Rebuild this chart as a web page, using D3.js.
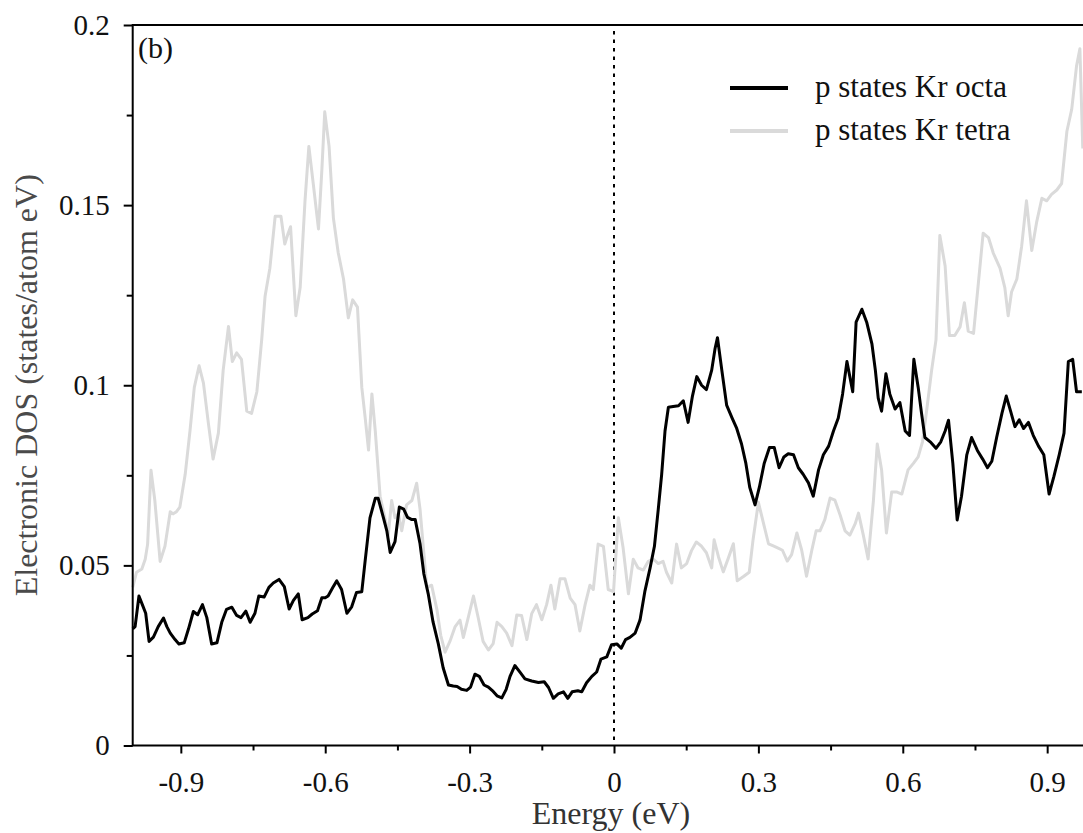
<!DOCTYPE html>
<html>
<head>
<meta charset="utf-8">
<script src="https://cdn.jsdelivr.net/npm/d3@7"></script>
<style>
  html, body { margin: 0; padding: 0; background: #fff; overflow: hidden; }
</style>
</head>
<body>
<div id="chart-area"></div>
<script>
// p states Kr octa (black)
var octaE = [-1.000,-0.995,-0.987,-0.980,-0.973,-0.966,-0.957,-0.947,-0.936,-0.929,-0.922,-0.912,-0.904,-0.893,-0.884,-0.874,-0.865,-0.855,-0.846,-0.836,-0.825,-0.815,-0.805,-0.794,-0.784,-0.775,-0.765,-0.756,-0.746,-0.738,-0.727,-0.717,-0.708,-0.696,-0.685,-0.675,-0.666,-0.656,-0.648,-0.636,-0.627,-0.616,-0.607,-0.600,-0.594,-0.584,-0.576,-0.566,-0.555,-0.545,-0.535,-0.524,-0.517,-0.507,-0.496,-0.490,-0.479,-0.472,-0.465,-0.455,-0.446,-0.437,-0.429,-0.420,-0.413,-0.403,-0.395,-0.386,-0.376,-0.365,-0.355,-0.344,-0.334,-0.326,-0.317,-0.306,-0.298,-0.289,-0.280,-0.270,-0.261,-0.251,-0.243,-0.233,-0.224,-0.216,-0.206,-0.195,-0.185,-0.171,-0.157,-0.145,-0.136,-0.126,-0.116,-0.105,-0.096,-0.087,-0.075,-0.067,-0.057,-0.046,-0.036,-0.027,-0.015,-0.005,0.006,0.015,0.024,0.033,0.044,0.054,0.064,0.075,0.084,0.092,0.099,0.106,0.113,0.123,0.134,0.144,0.154,0.163,0.172,0.182,0.192,0.203,0.210,0.215,0.224,0.234,0.245,0.255,0.265,0.274,0.282,0.293,0.302,0.312,0.323,0.333,0.343,0.353,0.362,0.373,0.383,0.393,0.404,0.414,0.425,0.435,0.446,0.456,0.466,0.475,0.484,0.490,0.496,0.503,0.515,0.525,0.536,0.543,0.549,0.556,0.565,0.573,0.584,0.594,0.605,0.614,0.623,0.632,0.639,0.646,0.657,0.669,0.679,0.688,0.695,0.704,0.713,0.722,0.733,0.743,0.755,0.766,0.776,0.785,0.795,0.806,0.815,0.824,0.833,0.842,0.851,0.861,0.871,0.882,0.893,0.904,0.914,0.925,0.935,0.944,0.953,0.961,0.972];
var octaDOS = [0.0324,0.0330,0.0415,0.0391,0.0367,0.0289,0.0301,0.0330,0.0354,0.0330,0.0312,0.0294,0.0282,0.0285,0.0324,0.0372,0.0363,0.0391,0.0355,0.0282,0.0285,0.0342,0.0378,0.0384,0.0361,0.0355,0.0373,0.0342,0.0367,0.0415,0.0412,0.0439,0.0451,0.0461,0.0441,0.0379,0.0403,0.0421,0.0349,0.0355,0.0365,0.0374,0.0410,0.0410,0.0415,0.0439,0.0457,0.0433,0.0367,0.0385,0.0425,0.0427,0.0513,0.0632,0.0686,0.0686,0.0632,0.0596,0.0536,0.0566,0.0662,0.0656,0.0633,0.0627,0.0627,0.0560,0.0476,0.0421,0.0343,0.0282,0.0216,0.0168,0.0165,0.0164,0.0156,0.0153,0.0162,0.0198,0.0192,0.0168,0.0162,0.0150,0.0138,0.0132,0.0156,0.0192,0.0222,0.0203,0.0185,0.0179,0.0175,0.0177,0.0161,0.0131,0.0143,0.0149,0.0131,0.0149,0.0152,0.0149,0.0174,0.0192,0.0204,0.0240,0.0246,0.0280,0.0282,0.0270,0.0294,0.0300,0.0312,0.0348,0.0427,0.0493,0.0553,0.0656,0.0752,0.0873,0.0939,0.0941,0.0943,0.0957,0.0897,0.0970,0.1024,0.1000,0.0988,0.1042,0.1102,0.1132,0.1042,0.0945,0.0910,0.0880,0.0837,0.0783,0.0717,0.0668,0.0717,0.0783,0.0827,0.0827,0.0771,0.0801,0.0810,0.0807,0.0771,0.0753,0.0729,0.0692,0.0765,0.0807,0.0831,0.0873,0.0909,0.0976,0.1066,0.1024,0.0982,0.1175,0.1211,0.1175,0.1114,0.1042,0.0964,0.0928,0.1032,0.0976,0.0934,0.0952,0.0873,0.0861,0.1072,0.0994,0.0922,0.0855,0.0843,0.0825,0.0843,0.0873,0.0903,0.0783,0.0626,0.0692,0.0807,0.0855,0.0819,0.0795,0.0771,0.0789,0.0855,0.0922,0.0970,0.0928,0.0885,0.0904,0.0880,0.0897,0.0861,0.0831,0.0807,0.0698,0.0747,0.0807,0.0867,0.1066,0.1072,0.0982,0.0982];

// p states Kr tetra (light grey)
var tetraE = [-1.000,-0.992,-0.981,-0.974,-0.969,-0.962,-0.954,-0.943,-0.933,-0.922,-0.916,-0.909,-0.902,-0.891,-0.881,-0.872,-0.862,-0.853,-0.843,-0.833,-0.822,-0.812,-0.801,-0.793,-0.784,-0.774,-0.763,-0.753,-0.742,-0.732,-0.725,-0.715,-0.704,-0.692,-0.684,-0.677,-0.672,-0.661,-0.652,-0.642,-0.634,-0.625,-0.614,-0.607,-0.601,-0.592,-0.583,-0.573,-0.562,-0.552,-0.543,-0.533,-0.524,-0.517,-0.510,-0.503,-0.496,-0.486,-0.476,-0.469,-0.462,-0.455,-0.448,-0.441,-0.431,-0.420,-0.410,-0.403,-0.396,-0.389,-0.379,-0.368,-0.360,-0.351,-0.341,-0.330,-0.320,-0.313,-0.303,-0.292,-0.282,-0.272,-0.261,-0.251,-0.243,-0.233,-0.223,-0.212,-0.202,-0.192,-0.181,-0.171,-0.161,-0.150,-0.140,-0.131,-0.123,-0.112,-0.102,-0.091,-0.081,-0.071,-0.060,-0.050,-0.043,-0.033,-0.022,-0.012,-0.001,0.009,0.019,0.030,0.040,0.050,0.061,0.071,0.082,0.092,0.102,0.109,0.120,0.130,0.140,0.151,0.161,0.171,0.182,0.192,0.203,0.208,0.217,0.227,0.237,0.248,0.256,0.269,0.281,0.289,0.300,0.310,0.321,0.331,0.341,0.350,0.360,0.369,0.380,0.390,0.400,0.411,0.420,0.428,0.438,0.449,0.459,0.470,0.480,0.490,0.501,0.508,0.518,0.528,0.539,0.547,0.556,0.566,0.577,0.587,0.598,0.611,0.622,0.632,0.641,0.650,0.660,0.669,0.677,0.688,0.697,0.708,0.719,0.728,0.736,0.747,0.757,0.767,0.778,0.788,0.802,0.812,0.819,0.826,0.837,0.847,0.857,0.868,0.878,0.889,0.899,0.909,0.920,0.930,0.941,0.951,0.961,0.968,0.974];
var tetraDOS = [0.0439,0.0481,0.0490,0.0517,0.0559,0.0764,0.0680,0.0511,0.0553,0.0649,0.0643,0.0649,0.0662,0.0752,0.0873,0.0994,0.1054,0.1006,0.0897,0.0795,0.0867,0.1042,0.1163,0.1066,0.1090,0.1072,0.0928,0.0922,0.0982,0.1126,0.1247,0.1325,0.1469,0.1469,0.1392,0.1422,0.1440,0.1193,0.1272,0.1512,0.1663,0.1561,0.1434,0.1597,0.1759,0.1663,0.1464,0.1368,0.1295,0.1187,0.1237,0.1217,0.0994,0.0910,0.0820,0.0976,0.0873,0.0692,0.0632,0.0583,0.0680,0.0632,0.0644,0.0596,0.0668,0.0680,0.0728,0.0656,0.0548,0.0439,0.0445,0.0378,0.0306,0.0259,0.0289,0.0330,0.0348,0.0300,0.0354,0.0415,0.0354,0.0289,0.0265,0.0283,0.0342,0.0330,0.0312,0.0277,0.0362,0.0361,0.0294,0.0366,0.0391,0.0349,0.0391,0.0445,0.0379,0.0463,0.0463,0.0409,0.0391,0.0318,0.0391,0.0445,0.0433,0.0559,0.0553,0.0433,0.0427,0.0632,0.0548,0.0421,0.0517,0.0493,0.0487,0.0511,0.0517,0.0505,0.0511,0.0481,0.0451,0.0559,0.0493,0.0505,0.0541,0.0565,0.0553,0.0535,0.0493,0.0571,0.0524,0.0482,0.0518,0.0560,0.0457,0.0469,0.0481,0.0572,0.0675,0.0620,0.0560,0.0554,0.0548,0.0542,0.0512,0.0530,0.0590,0.0542,0.0470,0.0542,0.0596,0.0596,0.0627,0.0687,0.0681,0.0639,0.0596,0.0584,0.0615,0.0645,0.0584,0.0518,0.0680,0.0837,0.0765,0.0590,0.0704,0.0704,0.0698,0.0765,0.0783,0.0801,0.0843,0.0934,0.1042,0.1126,0.1416,0.1331,0.1138,0.1138,0.1162,0.1229,0.1150,0.1144,0.1283,0.1422,0.1410,0.1367,0.1325,0.1271,0.1193,0.1259,0.1295,0.1386,0.1512,0.1374,0.1452,0.1519,0.1512,0.1530,0.1542,0.1560,0.1705,0.1766,0.1886,0.1934,0.1657];

var seriesNames = ["p states Kr octa", "p states Kr tetra"];
var xTicks = [-0.9, -0.6, -0.3, 0, 0.3, 0.6, 0.9];
var xMinorTicks = [-0.75, -0.45, -0.15, 0.15, 0.45, 0.75];
var yTicks = [0, 0.05, 0.1, 0.15, 0.2];
var yMinorTicks = [0.025, 0.075, 0.125, 0.175];

var svgWidth = 1083;
var svgHeight = 833;
var plotLeft = 132.7, plotRight = 1095.3, plotTop = 25, plotBottom = 745.5;
var serif = "'Liberation Serif', 'Times New Roman', serif";

var svg = d3.select("#chart-area")
            .append("svg")
            .attr("width", svgWidth)
            .attr("height", svgHeight);

var x = d3.scaleLinear().domain([-1, 1]).range([plotLeft, plotRight]);
var y = d3.scaleLinear().domain([0, 0.2]).range([plotBottom, plotTop]);

// zero energy marker
svg.append("line")
   .attr("x1", x(0)).attr("x2", x(0))
   .attr("y1", plotTop + 6).attr("y2", plotBottom)
   .attr("stroke", "#000")
   .attr("stroke-width", 2)
   .attr("stroke-dasharray", "3.5,5");

// lines
var line = d3.line()
             .x((d) => x(d[0]))
             .y((d) => y(d[1]));

var tetraData = d3.zip(tetraE, tetraDOS);
var octaData = d3.zip(octaE, octaDOS);

svg.append("path")
   .datum(tetraData)
   .attr("d", line)
   .attr("fill", "none")
   .attr("stroke", "#dadada")
   .attr("stroke-width", 3)
   .attr("stroke-linejoin", "round");

svg.append("path")
   .datum(octaData)
   .attr("d", line)
   .attr("fill", "none")
   .attr("stroke", "#000")
   .attr("stroke-width", 3)
   .attr("stroke-linejoin", "round");

// frame
svg.append("rect")
   .attr("x", plotLeft).attr("y", plotTop)
   .attr("width", plotRight - plotLeft).attr("height", plotBottom - plotTop)
   .attr("fill", "none")
   .attr("stroke", "#000")
   .attr("stroke-width", 2);

// axes
function styleAxis(g) {
    g.select(".domain").remove();
    g.selectAll(".tick line").attr("stroke", "#000").attr("stroke-width", 2);
    g.selectAll(".tick text")
     .attr("font-family", serif)
     .attr("font-size", "29px")
     .attr("fill", "#111");
}

svg.append("g")
   .attr("transform", "translate(0," + plotBottom + ")")
   .call(d3.axisBottom(x).tickValues(xTicks).tickSize(8).tickPadding(18)
           .tickFormat((d) => String(d)))
   .call(styleAxis);

svg.append("g")
   .attr("transform", "translate(0," + plotBottom + ")")
   .call(d3.axisBottom(x).tickValues(xMinorTicks).tickSize(5).tickFormat(""))
   .call(styleAxis);

svg.append("g")
   .attr("transform", "translate(" + plotLeft + ",0)")
   .call(d3.axisLeft(y).tickValues(yTicks).tickSize(9).tickPadding(14)
           .tickFormat((d) => String(d)))
   .call(styleAxis);

svg.append("g")
   .attr("transform", "translate(" + plotLeft + ",0)")
   .call(d3.axisLeft(y).tickValues(yMinorTicks).tickSize(6).tickFormat(""))
   .call(styleAxis);

// axis titles
svg.append("text")
   .attr("x", 611).attr("y", 824)
   .attr("text-anchor", "middle")
   .attr("font-family", serif)
   .attr("font-size", "32px")
   .attr("fill", "#333")
   .text("Energy (eV)");

svg.append("text")
   .attr("transform", "translate(37," + ((plotTop + plotBottom) / 2) + ") rotate(-90)")
   .attr("text-anchor", "middle")
   .attr("font-family", serif)
   .attr("font-size", "32px")
   .attr("fill", "#4a4a4a")
   .text("Electronic DOS (states/atom eV)");

// panel label
svg.append("text")
   .attr("x", 138).attr("y", 58)
   .attr("font-family", serif)
   .attr("font-size", "30px")
   .attr("fill", "#111")
   .text("(b)");

// legend
var legendColors = ["#000", "#dadada"];
var legend = svg.append("g").attr("transform", "translate(730,88)");
seriesNames.forEach((name, i) => {
    var row = legend.append("g").attr("transform", "translate(0," + (i * 43) + ")");
    row.append("line")
       .attr("x1", 0).attr("x2", 58)
       .attr("stroke", legendColors[i])
       .attr("stroke-width", 4);
    row.append("text")
       .attr("x", 85).attr("y", 9)
       .attr("font-family", serif)
       .attr("font-size", "31px")
       .attr("fill", "#111")
       .text(name);
});
</script>
</body>
</html>
